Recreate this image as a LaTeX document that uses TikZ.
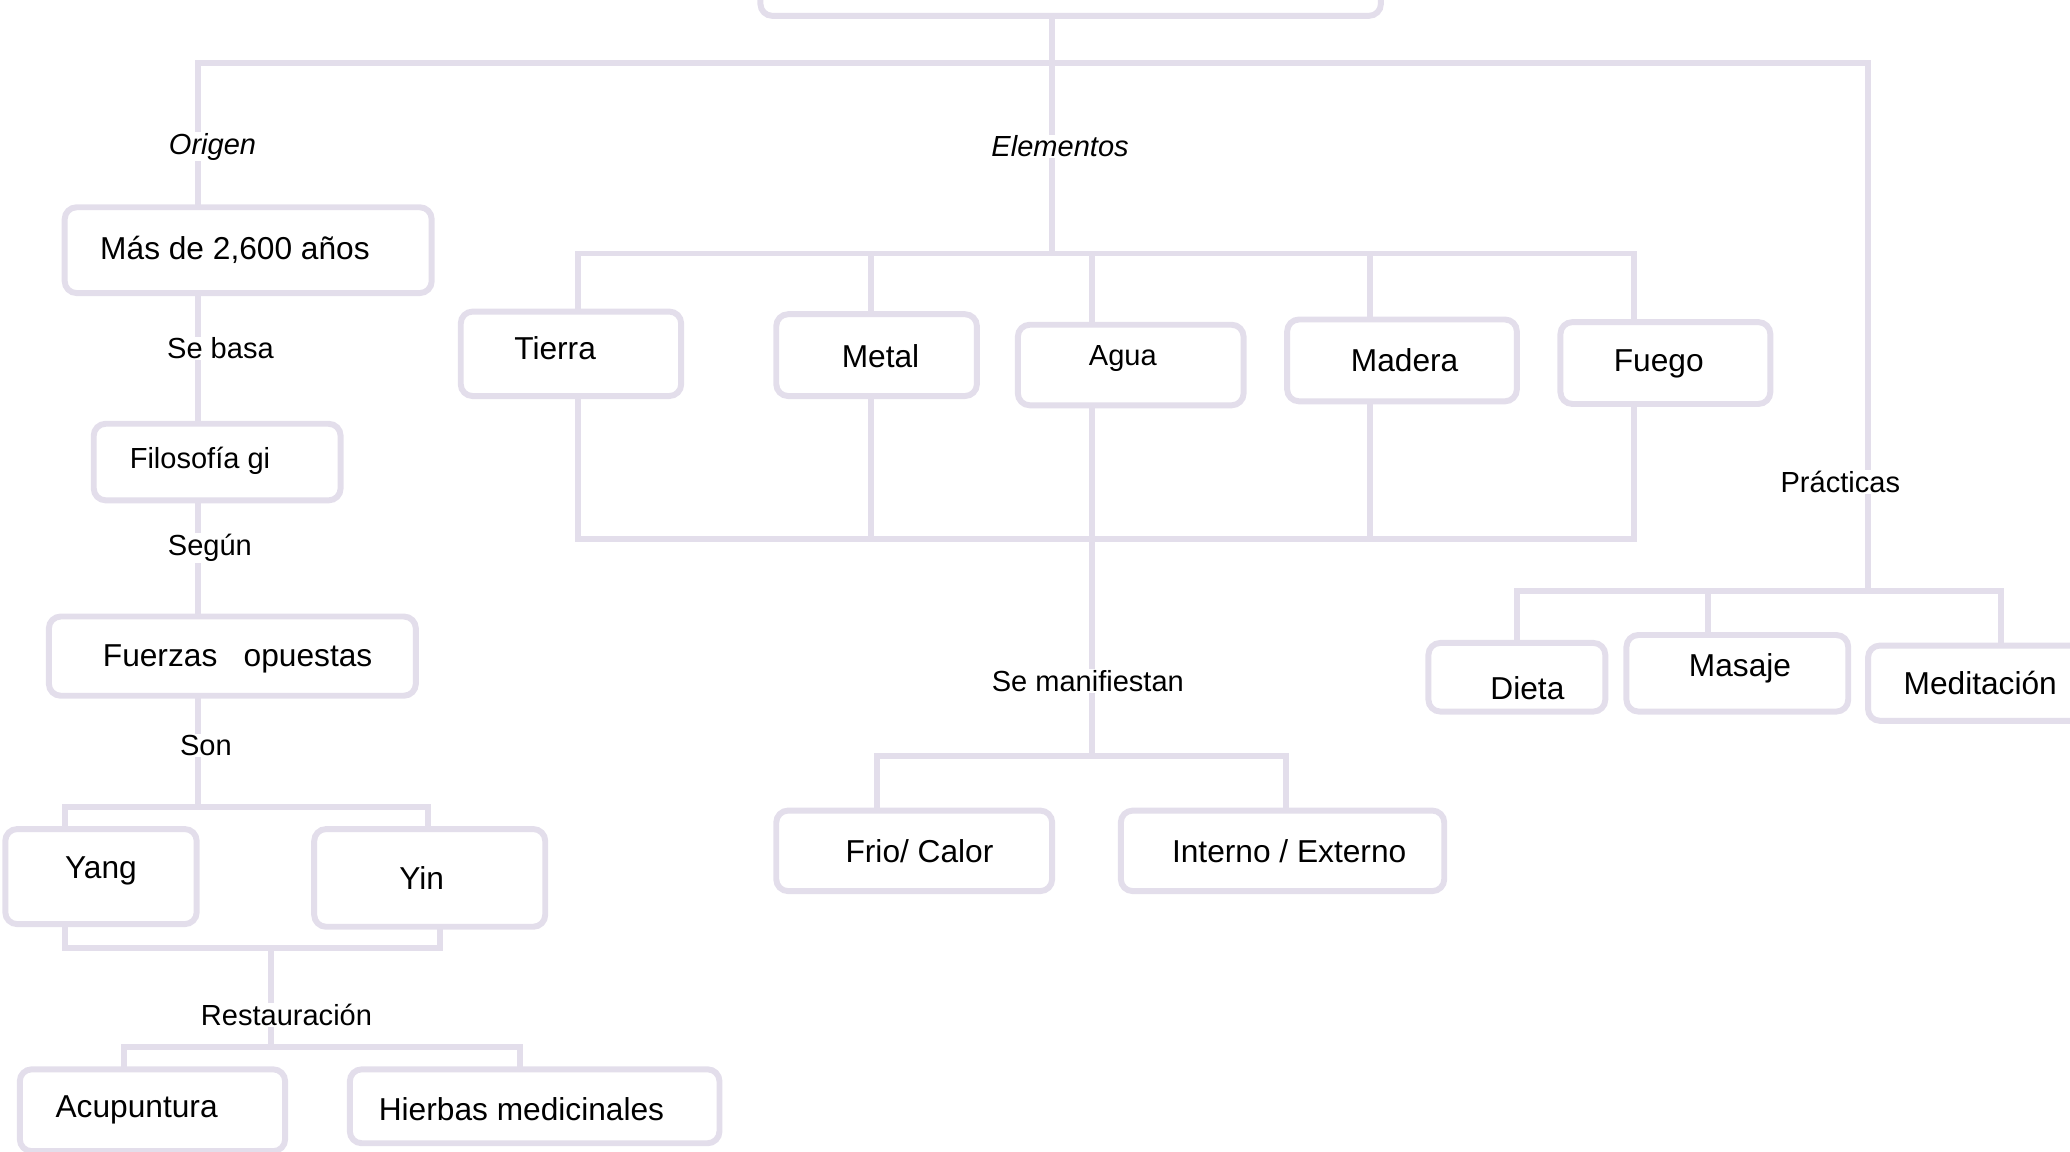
\documentclass[tikz,border=0pt]{standalone}
\usepackage{fontspec}
\setmainfont{Liberation Sans}
\usepackage{tikz}
\usetikzlibrary{calc}
\definecolor{lila}{HTML}{E3DEEB}
\definecolor{ink}{HTML}{000000}
\tikzset{
  link/.style={draw=lila, line width=4.5pt, line cap=rect},
  box/.style={draw=lila, line width=4.5pt, rounded corners=9pt, fill=white, text=ink,
    font=\fontsize{24}{28}\selectfont, inner sep=0pt},
  smallbox/.style={box, font=\fontsize{22}{26}\selectfont},
  lab/.style={text=ink, font=\fontsize{22}{26}\selectfont, inner sep=3pt},
  labit/.style={lab, font=\fontsize{22}{26}\selectfont\itshape},
}
% move the text inside a box: x offset, raise, text
\newcommand{\nudge}[3]{\raisebox{#2}[\height][\depth]{\makebox[0pt]{\hspace*{#1}\hspace*{#1}#3}}}

\begin{document}
\begin{tikzpicture}[x=1pt,y=-1pt]
\useasboundingbox (0,0) rectangle (1568,872.6);

% root, cut off at the top
\node[box, minimum width=470pt, minimum height=64pt] (root) at (811,-20) {};

% left column
\node[box, minimum width=278pt, minimum height=65pt] (anios) at (188,189.5) {\nudge{-10pt}{0pt}{Más de 2,600 años}};
\node[smallbox, minimum width=187pt, minimum height=58pt] (filosofia) at (164.5,350) {\nudge{-13pt}{1pt}{Filosofía gi}};
\node[box, minimum width=278pt, minimum height=60pt] (fuerzas) at (176,497) {\nudge{4pt}{-2pt}{Fuerzas\ \ \ opuestas}};
\node[box, minimum width=145pt, minimum height=72pt] (yang) at (76.5,664) {\nudge{0pt}{4pt}{Yang}};
\node[box, minimum width=175pt, minimum height=74pt] (yin) at (325.5,665) {\nudge{-6pt}{0pt}{Yin}};
\node[box, minimum width=201pt, minimum height=62pt] (acupuntura) at (115.5,841) {\nudge{-12pt}{0pt}{Acupuntura}};
\node[box, minimum width=280pt, minimum height=56pt] (hierbas) at (405,838) {\nudge{-10pt}{-2pt}{Hierbas medicinales}};

\node[labit] (origen) at (161,111) {Origen};
\node[lab] (sebasa) at (167,264) {Se basa};
\node[lab] (segun) at (159,415) {Según};
\node[lab] (son) at (156,565) {Son};
\node[lab] (restauracion) at (217,769) {Restauración};

% elements
\node[box, minimum width=167pt, minimum height=64pt] (tierra) at (432.5,268) {\nudge{-12pt}{4pt}{Tierra}};
\node[box, minimum width=152pt, minimum height=62pt] (metal) at (664,269) {\nudge{3pt}{-1pt}{Metal}};
\node[smallbox, minimum width=171pt, minimum height=61pt] (agua) at (856.5,276.5) {\nudge{-6pt}{5pt}{Agua}};
\node[box, minimum width=174pt, minimum height=62pt] (madera) at (1062,273) {\nudge{2pt}{0pt}{Madera}};
\node[box, minimum width=159pt, minimum height=62pt] (fuego) at (1261.5,275) {\nudge{-5pt}{-1pt}{Fuego}};
\node[box, minimum width=209pt, minimum height=61pt] (frio) at (692.5,644.5) {\nudge{4pt}{0pt}{Frio/ Calor}};
\node[box, minimum width=245pt, minimum height=61pt] (interno) at (971.5,644.5) {\nudge{5pt}{0pt}{Interno / Externo}};

\node[labit] (elementos) at (803,111) {Elementos};
\node[lab] (manifiestan) at (824,516) {Se manifiestan};

% practices
\node[box, minimum width=134pt, minimum height=52pt] (dieta) at (1149,513) {\nudge{8pt}{-8pt}{Dieta}};
\node[box, minimum width=168pt, minimum height=58pt] (masaje) at (1316,510) {\nudge{2pt}{4pt}{Masaje}};
\node[box, minimum width=170pt, minimum height=57pt] (meditacion) at (1500,517.5) {Meditación};

\node[lab] (practicas) at (1394,365) {Prácticas};

% top bus
\coordinate (top) at (797,48);
\coordinate (tl) at (150,48);
\coordinate (tr) at (1415,48);
\draw[link] (root.south -| top) -- (top);
\draw[link] (tl) -- (tr);

% left branch
\draw[link] (tl) -- (origen.north -| tl);
\draw[link] (origen.south -| tl) -- (anios.north -| tl);
\draw[link] (anios.south -| tl) -- (sebasa.north -| tl);
\draw[link] (sebasa.south -| tl) -- (filosofia.north -| tl);
\draw[link] (filosofia.south -| tl) -- (segun.north -| tl);
\draw[link] (segun.south -| tl) -- (fuerzas.north -| tl);
\draw[link] (fuerzas.south -| tl) -- (son.north -| tl);
\coordinate (yb) at (150,611);
\coordinate (ybl) at (49,611);
\coordinate (ybr) at (324,611);
\draw[link] (son.south -| tl) -- (yb);
\draw[link] (ybl) -- (ybr);
\draw[link] (ybl) -- (yang.north -| ybl);
\draw[link] (ybr) -- (yin.north -| ybr);
\coordinate (rl) at (49,718);
\coordinate (rr) at (333,718);
\coordinate (rm) at (205,718);
\draw[link] (yang.south -| rl) -- (rl) -- (rr) -- (yin.south -| rr);
\draw[link] (rm) -- (restauracion.north -| rm);
\coordinate (hb) at (205,793);
\coordinate (hbl) at (94,793);
\coordinate (hbr) at (394,793);
\draw[link] (restauracion.south -| hb) -- (hb);
\draw[link] (hbl) -- (hbr);
\draw[link] (hbl) -- (acupuntura.north -| hbl);
\draw[link] (hbr) -- (hierbas.north -| hbr);

% middle branch
\draw[link] (top) -- (elementos.north -| top);
\coordinate (eb) at (797,192);
\draw[link] (elementos.south -| top) -- (eb);
\foreach \n/\x in {tierra/438, metal/660, agua/827, madera/1038, fuego/1238} {
  \coordinate (t-\n) at (\x,192);
  \coordinate (b-\n) at (\x,408);
  \draw[link] (t-\n) -- (\n.north -| t-\n);
  \draw[link] (\n.south -| b-\n) -- (b-\n);
}
\draw[link] (t-tierra) -- (t-fuego);
\draw[link] (b-tierra) -- (b-fuego);
\draw[link] (b-agua) -- (manifiestan.north -| b-agua);
\coordinate (mb) at (827,573);
\coordinate (mbl) at (664,573);
\coordinate (mbr) at (974,573);
\draw[link] (manifiestan.south -| mb) -- (mb);
\draw[link] (mbl) -- (mbr);
\draw[link] (mbl) -- (frio.north -| mbl);
\draw[link] (mbr) -- (interno.north -| mbr);

% right branch
\draw[link] (tr) -- (practicas.north -| tr);
\coordinate (pb) at (1415,448);
\coordinate (pbl) at (1149,448);
\coordinate (pbm) at (1294,448);
\coordinate (pbr) at (1516,448);
\draw[link] (practicas.south -| tr) -- (pb);
\draw[link] (pbl) -- (pbr);
\draw[link] (pbl) -- (dieta.north -| pbl);
\draw[link] (pbm) -- (masaje.north -| pbm);
\draw[link] (pbr) -- (meditacion.north -| pbr);
\end{tikzpicture}
\end{document}
